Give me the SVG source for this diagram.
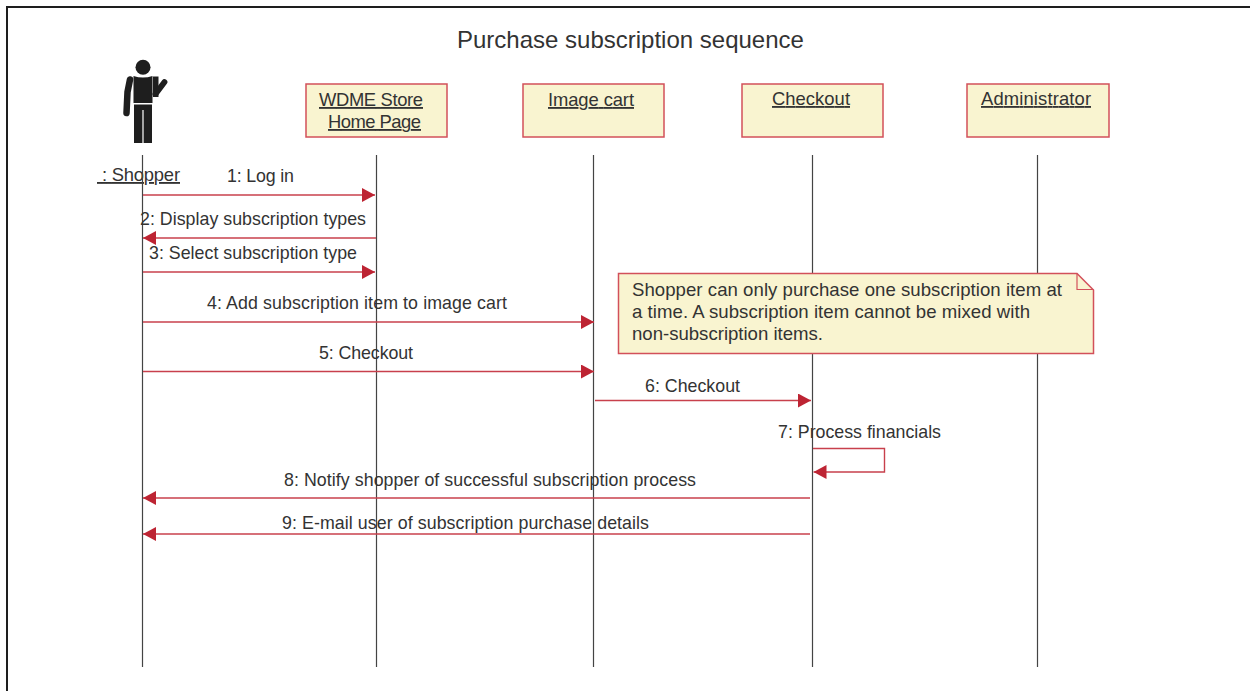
<svg xmlns="http://www.w3.org/2000/svg" width="1250" height="691" viewBox="0 0 1250 691">
<style>
text{font-family:"Liberation Sans",Arial,sans-serif;font-size:17.8px;fill:#333}
.title{font-size:24px}
.n{font-size:18.6px}
.u{text-decoration:underline;font-size:18.4px}
.box{fill:#f9f4d0;stroke:#d2505a;stroke-width:1.5}
.life{stroke:#444;stroke-width:1.2;fill:none}
.msg{stroke:#c8404c;stroke-width:1.4;fill:none}
.head{fill:#bd2433}
.fig{fill:#1e1e1e}
</style>
<defs>
<marker id="arrow" markerUnits="userSpaceOnUse" markerWidth="13" markerHeight="14" refX="13" refY="7" orient="auto"><path class="head" d="M0 0L13 7L0 14Z"/></marker>
</defs>
<rect width="1250" height="691" fill="#fff"/>
<path id="frame" d="M7 691V7H1250" fill="none" stroke="#1e1e1e" stroke-width="2"/>
<text class="title" x="457" y="48">Purchase subscription sequence</text>
<g id="shopper">
<circle class="fig" cx="143" cy="67.3" r="7.500"/>
<path class="fig" d="M133.500 76Q143 79 152.500 76V103H133.500Z"/>
<path class="fig" d="M134 104.500H152V143H143.600V110H142.400V143H134Z"/>
<path d="M130 79.500L127.500 92L126.500 113" fill="none" stroke="#1e1e1e" stroke-width="6.500" stroke-linecap="round" stroke-linejoin="round"/>
<path class="fig" d="M153 76.500H158.500V97H153Z"/>
<path d="M155.500 94L164.500 82" fill="none" stroke="#1e1e1e" stroke-width="5.800" stroke-linecap="round"/>
<text class="u" x="97" y="181" textLength="83">&#160;: Shopper</text>
</g>
<g id="wdme"><rect class="box" x="306" y="84" width="141" height="53"/><text class="u" x="319" y="106" textLength="104">WDME Store</text><text class="u" x="328" y="128" textLength="93">Home Page</text></g>
<g id="cart"><rect class="box" x="523" y="84" width="141" height="53"/><text class="u" x="548" y="106" textLength="86">Image cart</text></g>
<g id="checkout"><rect class="box" x="742" y="84" width="141" height="53"/><text class="u" x="772" y="105" textLength="78">Checkout</text></g>
<g id="admin"><rect class="box" x="967" y="84" width="142" height="53"/><text class="u" x="981" y="105" textLength="110">Administrator</text></g>
<g id="lifelines">
<path class="life" d="M142.500 155V667M376.500 155V667M593.500 155V667M812.500 155V667M1037.500 155V667"/>
</g>
<g id="note">
<path class="box" d="M618.500 273.500H1077L1093.500 290V353.500H618.500Z"/>
<path d="M1077 273.500V289.500H1093.500" fill="none" stroke="#d2505a" stroke-width="1.200"/>
<text class="n" x="632" y="296" textLength="430">Shopper can only purchase one subscription item at</text>
<text class="n" x="632" y="318" textLength="398">a time. A subscription item cannot be mixed with</text>
<text class="n" x="632" y="340" textLength="191">non-subscription items.</text>
</g>
<g id="connectors">
<path class="msg" marker-end="url(#arrow)" d="M143 195H375"/>
<path class="msg" marker-end="url(#arrow)" d="M376 238H143"/>
<path class="msg" marker-end="url(#arrow)" d="M143 272H375"/>
<path class="msg" marker-end="url(#arrow)" d="M143 322H594"/>
<path class="msg" marker-end="url(#arrow)" d="M143 371.500H594"/>
<path class="msg" marker-end="url(#arrow)" d="M595 400.500H811"/>
<path class="msg" marker-end="url(#arrow)" d="M813 448.500H884.500V472H813.500"/>
<path class="msg" marker-end="url(#arrow)" d="M810 498H143"/>
<path class="msg" marker-end="url(#arrow)" d="M810 534H143"/>
</g>
<g id="labels">
<text x="227" y="182" textLength="67">1: Log in</text>
<text x="140" y="225" textLength="226">2: Display subscription types</text>
<text x="149" y="259" textLength="208">3: Select subscription type</text>
<text x="207" y="309" textLength="300">4: Add subscription item to image cart</text>
<text x="319" y="359" textLength="94">5: Checkout</text>
<text x="645" y="392" textLength="95">6: Checkout</text>
<text x="778" y="438" textLength="163">7: Process financials</text>
<text x="284" y="486" textLength="412">8: Notify shopper of successful subscription process</text>
<text x="282" y="529" textLength="367">9: E-mail user of subscription purchase details</text>
</g>
</svg>
